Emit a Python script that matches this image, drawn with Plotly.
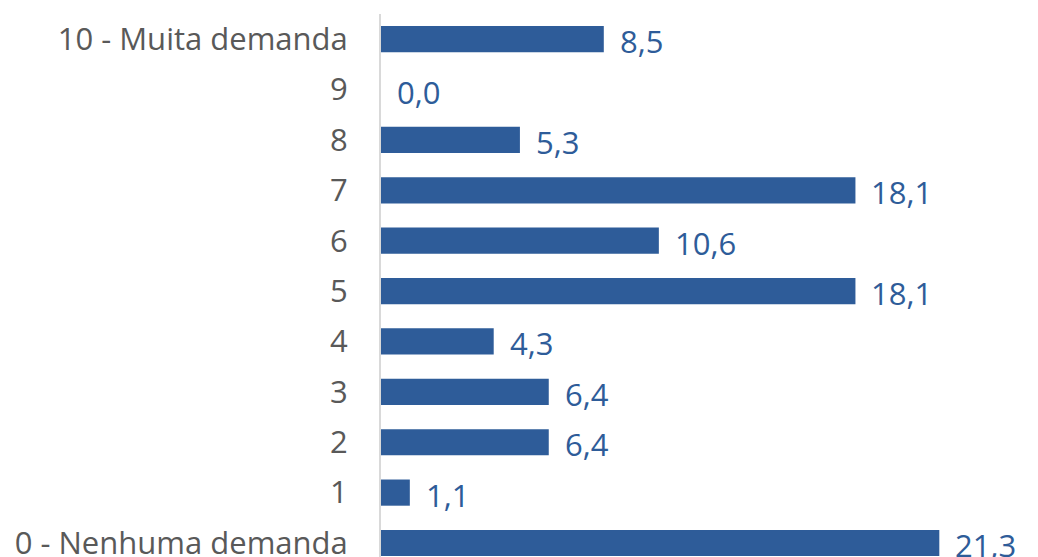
import plotly.graph_objects as go

categories = ["0 - Nenhuma demanda", "1", "2", "3", "4", "5", "6", "7", "8", "9", "10 - Muita demanda"]
values = [21.3, 1.1, 6.4, 6.4, 4.3, 18.1, 10.6, 18.1, 5.3, 0.0, 8.5]
labels = [f"{v:.1f}".replace(".", ",") for v in values]

BAR = "#2E5C99"
FONT = "Open Sans"

fig = go.Figure(go.Bar(
    x=values, y=list(range(len(categories))), orientation="h",
    marker=dict(color=BAR, line=dict(width=0)), width=0.52,
    hoverinfo="skip",
))

for i, (v, t) in enumerate(zip(values, labels)):
    fig.add_annotation(x=v, y=i, text=t, showarrow=False, xanchor="left", yanchor="middle",
                       xshift=14, yshift=-2, font=dict(family=FONT, size=31, color=BAR))

fig.update_layout(
    width=1038, height=557,
    margin=dict(l=373, r=0, t=6, b=0),
    paper_bgcolor="white", plot_bgcolor="white",
    showlegend=False,
    xaxis=dict(range=[0, 25.37], visible=False, fixedrange=True),
    yaxis=dict(range=[-0.437, 10.5], tickmode="array", tickvals=list(range(len(categories))),
               ticktext=categories, showgrid=False, zeroline=False,
               showline=True, linecolor="#D9D9D9", linewidth=2, ticks="",
               ticklabelstandoff=25,
               tickfont=dict(family=FONT, size=31, color="#595959")),
)

fig.write_html("out.html")
